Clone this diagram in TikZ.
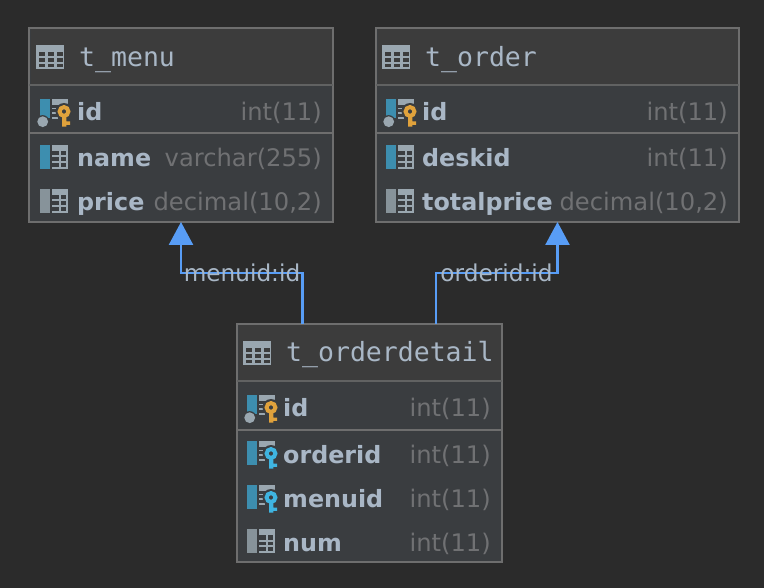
\documentclass[tikz,border=0pt]{standalone}
\usepackage{fontspec}
\usepackage{xcolor}
\setmainfont{DejaVu Sans}
\newfontfamily\monofam{DejaVu Sans Mono}
\usetikzlibrary{positioning,arrows.meta}
\definecolor{canvas}{HTML}{2B2B2B}
\definecolor{hdrfill}{HTML}{3C3C3C}
\definecolor{bodyfill}{HTML}{3A3D40}
\definecolor{edge}{HTML}{6E6E6E}
\definecolor{inkblue}{HTML}{A9B7C6}
\definecolor{typegray}{HTML}{707173}
\definecolor{linkblue}{HTML}{589DF6}
\definecolor{barteal}{HTML}{3D8EAF}
\definecolor{bargray}{HTML}{87939A}
\definecolor{icongray}{HTML}{9AA7B0}
\definecolor{keygold}{HTML}{E0A23C}
\definecolor{keycyan}{HTML}{3FB4E0}

\tikzset{
  pics/tblicon/.style={code={
    \fill[icongray] (0,0) rectangle (28,24);
    \foreach \cx in {2.5,11.5,20.5} \foreach \cy in {7.5,13.5,19}
      \fill[hdrfill] (\cx,\cy) rectangle ++(6,3.2);
  }},
  pics/colicon/.style={code={
    \fill[#1] (0,0) rectangle (10,24);
    \fill[icongray] (12,0) rectangle (28,6);
    \draw[icongray, line width=2pt] (12,11.5) -- (28,11.5) (12,17) -- (28,17) (12,22.8) -- (28,22.8)
      (20,6) -- (20,23.8) (27,6) -- (27,23.8);
  }},
  pics/keyicon/.style n args={2}{code={
    \fill[#1] (0,0) rectangle (10,#2);
    \fill[icongray] (12,0) rectangle (28,6);
    \draw[icongray, line width=1.8pt] (12,9.5) -- (18,9.5) (12,14) -- (18,14) (12,19) -- (18,19);
  }},
  pics/keyshape/.style={code={
    \fill[bodyfill] (24,12.5) circle (8.5);
    \draw[#1, line width=4pt] (24,12.5) circle (4.4);
    \fill[#1] (22,16) rectangle (26.3,27.7) (26,22.5) rectangle (30,25.8);
  }},
  pics/pkdot/.style={code={
    \fill[bodyfill] (2.7,22.7) circle (6.6);
    \fill[icongray] (2.7,22.7) circle (5.4);
  }}
}

\begin{document}
\begin{tikzpicture}[
    x=1pt, y=-1pt,
    tbl/.style={draw=edge, fill=bodyfill, line width=2.6pt, outer sep=0pt, inner sep=0pt},
    hdr/.style={fill=hdrfill, outer sep=0pt, inner sep=0pt, anchor=north, minimum height=56pt},
    ttl/.style={anchor=base west, inner sep=0pt, text=inkblue, font=\monofam\fontsize{26.5}{26.5}\selectfont},
    col/.style={anchor=base west, inner sep=0pt, text=inkblue, font=\bfseries\fontsize{23.8}{24}\selectfont},
    typ/.style={anchor=base east, inner sep=0pt, text=typegray, font=\fontsize{24.2}{24.2}\selectfont},
    lab/.style={anchor=base, inner sep=0pt, text=inkblue, font=\fontsize{23.2}{23.2}\selectfont},
    hline/.style={line width=2.4pt},
    fk/.style={linkblue, line width=2.5pt, -{Triangle[length=23pt,width=24pt]}}
  ]
  \useasboundingbox (0,0) rectangle (764,588);
  \fill[canvas] (0,0) rectangle (764,588);

  % Table t_menu.
  \node[tbl, minimum width=304pt, minimum height=194pt] (tmenu) at (181,125) {};
  \node[hdr, minimum width=301pt] (menuhdr) at (181,29.5) {};
  \draw[hline, edge!75!bodyfill] (tmenu.west |- 0,85) -- (tmenu.east |- 0,85);
  \draw[hline, edge] (tmenu.west |- 0,133) -- (tmenu.east |- 0,133);
  \pic at (36,45) {tblicon};
  \node[ttl] (menuname) at (79,67) {t\_menu};
  \pic at (40,99) {keyicon={barteal}{19}};
  \pic at (40,99) {pkdot};
  \pic at (40,99) {keyshape=keygold};
  \node[col] (menuid) at (77,121) {id};
  \node[typ] (menuidt) at (322,121) {int(11)};
  \pic at (40,145) {colicon=barteal};
  \node[col] (menuname2) at (77,167) {name};
  \node[typ] (menunamet) at (322,167) {varchar(255)};
  \pic at (40,189) {colicon=bargray};
  \node[col] (menuprice) at (77,211) {price};
  \node[typ] (menupricet) at (322,211) {decimal(10,2)};

  % Table t_order.
  \node[tbl, minimum width=363pt, minimum height=194pt] (torder) at (557.5,125) {};
  \node[hdr, minimum width=360pt] (orderhdr) at (557.5,29.5) {};
  \draw[hline, edge!75!bodyfill] (torder.west |- 0,85) -- (torder.east |- 0,85);
  \draw[hline, edge] (torder.west |- 0,133) -- (torder.east |- 0,133);
  \pic at (382,45) {tblicon};
  \node[ttl] (ordername) at (425,67) {t\_order};
  \pic at (386,99) {keyicon={barteal}{19}};
  \pic at (386,99) {pkdot};
  \pic at (386,99) {keyshape=keygold};
  \node[col] (orderid) at (422,121) {id};
  \node[typ] (orderidt) at (728,121) {int(11)};
  \pic at (386,145) {colicon=barteal};
  \node[col] (orderdesk) at (422,167) {deskid};
  \node[typ] (orderdeskt) at (728,167) {int(11)};
  \pic at (386,189) {colicon=bargray};
  \node[col] (ordertotal) at (422,211) {totalprice};
  \node[typ] (ordertotalt) at (728,211) {decimal(10,2)};

  % Table t_orderdetail.
  \node[tbl, minimum width=265pt, minimum height=238pt] (detail) at (369.5,443) {};
  \node[hdr, minimum width=262pt] (detailhdr) at (369.5,325.5) {};
  \draw[hline, edge!75!bodyfill] (detail.west |- 0,381) -- (detail.east |- 0,381);
  \draw[hline, edge] (detail.west |- 0,430) -- (detail.east |- 0,430);
  \pic at (243,341) {tblicon};
  \node[ttl] (detailname) at (286,362) {t\_orderdetail};
  \pic at (247,395) {keyicon={barteal}{19}};
  \pic at (247,395) {pkdot};
  \pic at (247,395) {keyshape=keygold};
  \node[col] (detailid) at (283,417) {id};
  \node[typ] (detailidt) at (491,417) {int(11)};
  \pic at (247,441) {keyicon={barteal}{24}};
  \pic at (247,441) {keyshape=keycyan};
  \node[col] (detailorder) at (283,463) {orderid};
  \node[typ] (detailordert) at (491,463) {int(11)};
  \pic at (247,485) {keyicon={barteal}{24}};
  \pic at (247,485) {keyshape=keycyan};
  \node[col] (detailmenu) at (283,507) {menuid};
  \node[typ] (detailmenut) at (491,507) {int(11)};
  \pic at (247,529) {colicon=bargray};
  \node[col] (detailnum) at (283,551) {num};
  \node[typ] (detailnumt) at (491,551) {int(11)};

  % Foreign keys.
  \draw[fk] ([xshift=-67pt]detail.north) -- ++(0,-51) -| (tmenu.south);
  \draw[fk] ([xshift=66.5pt]detail.north) -- ++(0,-51) -| (torder.south);
  \node[lab] (menulink) at (242,282) {menuid:id};
  \node[lab] (orderlink) at (496.5,282) {orderid:id};
\end{tikzpicture}
\end{document}
